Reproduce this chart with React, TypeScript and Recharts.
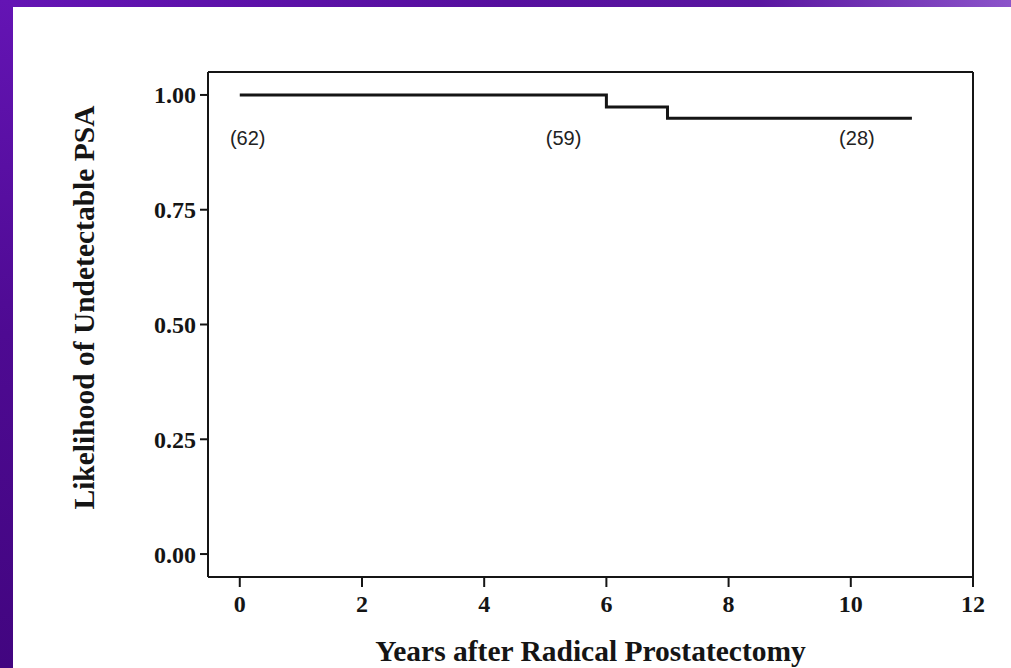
import { LineChart, Line, XAxis, YAxis, ReferenceDot } from 'recharts'

const years = [0, 6, 7, 11]
const survival = [1.0, 0.974, 0.949, 0.949]

const atRiskLabels = ['(62)', '(59)', '(28)']
const atRiskYears = [0.13, 5.3, 10.1]
const atRiskLevel = 0.906

const xTicks = [0, 2, 4, 6, 8, 10, 12]
const yTicks = [0, 0.25, 0.5, 0.75, 1]

const data = years.map((year, i) => ({ year, psa: survival[i] }))

const ink = '#151515'
const axisLine = { stroke: ink, strokeWidth: 2 }
const tickFont = {
  fill: ink,
  fontFamily: 'Liberation Serif',
  fontWeight: 700,
  fontSize: 24
}

export default function App() {
  return (
    <div
      style={{
        position: 'absolute',
        left: 0,
        top: 0,
        width: 1011,
        height: 668,
        background: '#ffffff',
        overflow: 'hidden'
      }}
    >
      <div
        style={{
          position: 'absolute',
          left: 0,
          top: 0,
          width: 1011,
          height: 7,
          background: 'linear-gradient(to right, #6414b4 0%, #560f9e 50%, #5a16a0 75%, #8c54ca 100%)'
        }}
      />
      <div
        style={{
          position: 'absolute',
          left: 0,
          top: 0,
          width: 13,
          height: 668,
          background: 'linear-gradient(to bottom, #6414b4 0%, #4e0a92 50%, #420580 100%)'
        }}
      />
      <div style={{ position: 'absolute', left: 0, top: 0 }}>
        <LineChart
          width={1011}
          height={668}
          data={data}
          margin={{ top: 70, right: 36, bottom: 0, left: 128 }}
        >
          <XAxis
            dataKey="year"
            type="number"
            domain={[-0.52, 12]}
            allowDataOverflow
            ticks={xTicks}
            height={91}
            axisLine={axisLine}
            tickLine={{ stroke: ink, strokeWidth: 2 }}
            tickSize={10}
            tickMargin={8}
            tick={tickFont}
            label={{
              value: 'Years after Radical Prostatectomy',
              position: 'center',
              dy: 28,
              fill: ink,
              fontFamily: 'Liberation Serif',
              fontWeight: 700,
              fontSize: 29.5
            }}
          />
          <XAxis
            xAxisId="top"
            orientation="top"
            type="number"
            domain={[-0.52, 12]}
            allowDataOverflow
            height={2}
            tick={false}
            tickLine={false}
            axisLine={axisLine}
          />
          <YAxis
            type="number"
            domain={[-0.05, 1.05]}
            allowDataOverflow
            ticks={yTicks}
            width={80}
            axisLine={axisLine}
            tickLine={{ stroke: ink, strokeWidth: 2 }}
            tickSize={8}
            tickMargin={4}
            tick={tickFont}
            tickFormatter={(v: number) => v.toFixed(2)}
            label={{
              value: 'Likelihood of Undetectable PSA',
              angle: -90,
              position: 'center',
              dx: -84,
              dy: -17,
              fill: ink,
              fontFamily: 'Liberation Serif',
              fontWeight: 700,
              fontSize: 29.5
            }}
          />
          <YAxis
            yAxisId="right"
            orientation="right"
            type="number"
            domain={[-0.05, 1.05]}
            allowDataOverflow
            width={2}
            tick={false}
            tickLine={false}
            axisLine={axisLine}
          />
          <Line
            type="stepAfter"
            dataKey="psa"
            stroke={ink}
            strokeWidth={3}
            dot={false}
            activeDot={false}
            isAnimationActive={false}
          />
          {atRiskLabels.map((text, i) => (
            <ReferenceDot
              key={text}
              x={atRiskYears[i]}
              y={atRiskLevel}
              r={0}
              stroke="none"
              fill="none"
              label={{
                value: text,
                position: 'center',
                fill: '#222',
                fontFamily: 'Liberation Sans',
                fontSize: 20
              }}
            />
          ))}
        </LineChart>
      </div>
    </div>
  )
}
